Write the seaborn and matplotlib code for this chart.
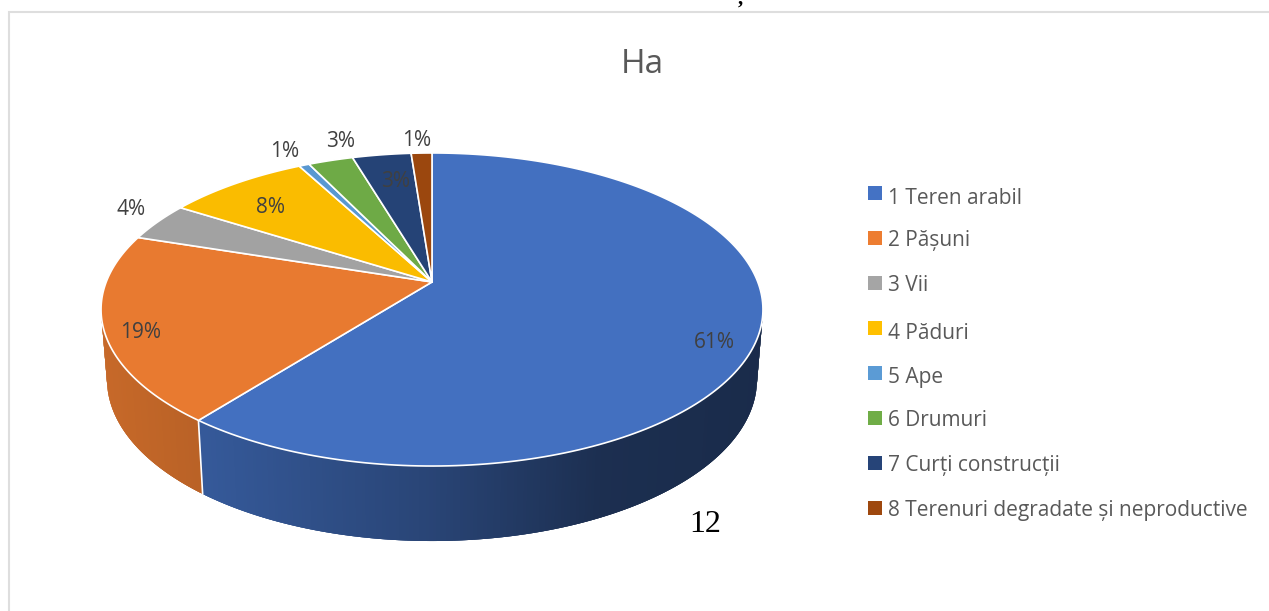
import numpy as np
import seaborn as sns
import matplotlib.pyplot as plt
from matplotlib.patches import Rectangle

# data
categories = ['1 Teren arabil', '2 Pășuni', '3 Vii', '4 Păduri', '5 Ape', '6 Drumuri',
              '7 Curți construcții', '8 Terenuri degradate și neproductive']
values = [60.6, 19.4, 4.0, 8.2, 0.6, 2.6, 3.4, 1.2]
colors = ['#4472C4', '#ED7D31', '#A5A5A5', '#FFC000', '#5B9BD5', '#70AD47', '#264478', '#9E480E']
title = 'Ha'

# pie geometry, in pixels of the figure
cx, cy = 432, 282
rad_x, rad_y = 325.8, 151.7
persp = 0.1757
base_scale_x = 0.982
base_scale_y = 1.032

# where the percent labels sit: radius fraction and a small turn in degrees
label_r = [0.888, 0.898, 1.146, 0.774, 1.16, 1.178, 0.773, 1.14]
label_turn = [5, -2.6, 2.8, -1.8, -0.5, 4.7, 1.1, -0.6]
legend_box_y = [186, 231, 276, 321, 366, 411, 456, 501]
legend_text_y = [204, 246, 291, 339, 383, 426, 471, 516]


def project(theta, r=1.0):
    # theta in degrees clockwise from the top of the pie
    t = np.radians(90 - np.asarray(theta, dtype=float))
    c, s = r * np.cos(t), r * np.sin(t)
    d = 1 + persp * s
    return cx + rad_x * c / d, cy - rad_y * s / d


def wall_shade(x, i):
    if i == 0:
        return np.interp(x, [205, 430, 600, 760], [0.78, 0.60, 0.41, 0.38])
    return np.interp(x, [100, 205], [0.84, 0.78])


sns.set_theme(style='white')
plt.rcParams['font.family'] = ['Open Sans', 'DejaVu Sans']
palette = sns.color_palette(colors)

fig = plt.figure(figsize=(12.69, 6.11), dpi=100)
ax = fig.add_axes([0, 0, 1, 1])
ax.set_xlim(0, 1269)
ax.set_ylim(611, 0)
ax.axis('off')

# frame of the chart
ax.plot([8.5, 8.5, 1269], [611, 12, 12], color='#dedede', lw=1.5, solid_joinstyle='miter')

edges = 360 * np.cumsum([0] + values) / sum(values)
wall_from, wall_to = 90 + 10.1, 270 - 10.1

# side wall, each strip runs under the next one so no seams show
for i in range(len(values)):
    a, b = max(edges[i], wall_from), min(edges[i + 1], wall_to)
    if b <= a:
        continue
    steps = np.linspace(a, b, int((b - a) * 2) + 2)
    x, y = project(steps)
    xb = cx + (x - cx) * base_scale_x
    yb = 380 + (y - 310) * base_scale_y
    order = range(len(steps) - 1) if i == 0 else range(len(steps) - 2, -1, -1)
    for j in order:
        lo, hi = max(j - 1, 0), min(j + 2, len(steps))
        col = tuple(np.array(palette[i]) * wall_shade(x[j], i))
        ax.fill(np.r_[x[lo:hi + 1], xb[lo:hi + 1][::-1]], np.r_[y[lo:hi + 1], yb[lo:hi + 1][::-1]],
                color=col, lw=0, zorder=2)
    if a == edges[i] and a > wall_from:
        ax.plot([x[0], xb[0]], [y[0], yb[0]], color='white', lw=1.2, zorder=3)

# top face
for i in range(len(values)):
    steps = np.linspace(edges[i], edges[i + 1], 200)
    x, y = project(steps)
    ax.fill(np.r_[cx, x], np.r_[cy, y], facecolor=tuple(np.array(palette[i]) * 0.98),
            edgecolor='white', lw=1.2, joinstyle='round', zorder=4)

# percent labels
for i in range(len(values)):
    mid = (edges[i] + edges[i + 1]) / 2 + label_turn[i]
    x, y = project(mid, label_r[i])
    ax.text(x, y + 2, f'{values[i]:.0f}%', ha='center', va='center', fontsize=15,
            color='#404040', zorder=5)

ax.text(642, 73, title, ha='center', va='baseline', fontsize=24, color='#595959')

# legend
for i in range(len(categories)):
    ax.add_patch(Rectangle((868, legend_box_y[i]), 14, 14, facecolor=palette[i], edgecolor='none'))
    ax.text(888, legend_text_y[i], categories[i], ha='left', va='baseline', fontsize=15,
            color='#595959')

# stray text of the scanned page
ax.text(705, 532, '12', ha='center', va='baseline', fontsize=23, color='black',
        family='Liberation Serif')
ax.text(740, 4, ',', ha='center', va='baseline', fontsize=15, color='black',
        family='Liberation Serif', fontweight='bold')

plt.savefig('out.png', dpi=100)
